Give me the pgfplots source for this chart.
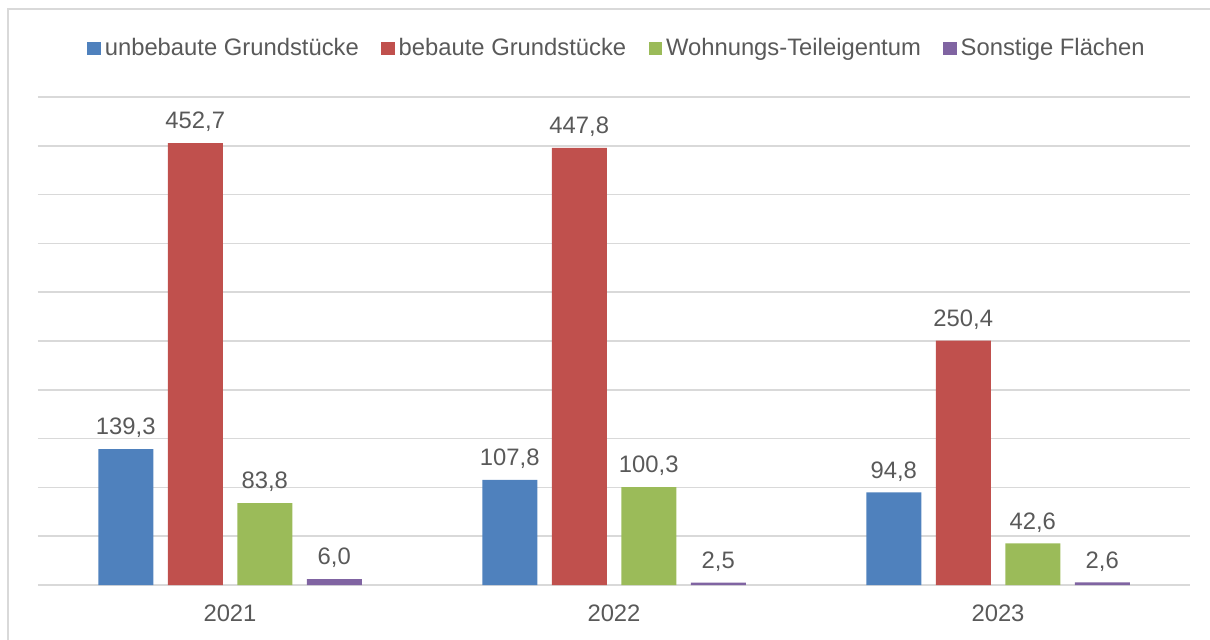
\documentclass[border=0pt]{standalone}
\usepackage{fontspec}
\setmainfont{Liberation Sans}
\usepackage{pgfplots}
\pgfplotsset{compat=1.18}
\definecolor{cblue}{HTML}{4F81BD}
\definecolor{cred}{HTML}{C0504D}
\definecolor{cgreen}{HTML}{9BBB59}
\definecolor{cpurple}{HTML}{8064A2}
\definecolor{textgray}{HTML}{595959}
\definecolor{gridgray}{HTML}{D9D9D9}
\begin{document}
\fontsize{11.9}{14}\selectfont
\begin{tikzpicture}
\useasboundingbox (-19pt,-27pt) rectangle (586pt,292.5pt);
\draw[color=gridgray, line width=0.75pt] (-15pt,-40pt) rectangle (600pt,288pt);
\begin{axis}[
  at={(0,0)}, anchor=south west,
  scale only axis, width=576pt, height=244pt,
  ymin=0, ymax=500, ytick={0,50,...,500}, yticklabel=\empty,
  xmin=-0.5, xmax=2.5, xtick={0,1,2}, xticklabels={2021,2022,2023},
  major tick length=0pt,
  axis line style={draw=none},
  ymajorgrids, grid style={gridgray, line width=0.75pt},
  ybar=7.25pt, bar width=27.5pt,
  /pgf/number format/assume math mode=true,
  tick label style={font=\fontsize{11.9}{14}\selectfont, text=textgray},
  xticklabel style={yshift=-6pt},
  nodes near coords={\pgfmathprintnumber[use comma,fixed,fixed zerofill,precision=1]{\pgfplotspointmeta}},
  nodes near coords style={font=\fontsize{11.9}{14}\selectfont, text=textgray, yshift=1.5pt},
  legend style={at={(0.5035,1.10)}, anchor=center, draw=none, fill=none,
    font=\fontsize{11.9}{14}\selectfont, text=textgray,
    /tikz/every even column/.append style={column sep=9.2pt}},
  legend columns=4,
  legend image code/.code={\fill[#1,draw=none] (0pt,-3.35pt) rectangle (6.7pt,3.35pt);},
]
\addplot[fill=cblue, draw=none] coordinates {(0,139.3) (1,107.8) (2,94.8)};
\addplot[fill=cred, draw=none] coordinates {(0,452.7) (1,447.8) (2,250.4)};
\addplot[fill=cgreen, draw=none] coordinates {(0,83.8) (1,100.3) (2,42.6)};
\addplot[fill=cpurple, draw=none] coordinates {(0,6.0) (1,2.5) (2,2.6)};
\legend{unbebaute Grundstücke, bebaute Grundstücke, Wohnungs-Teileigentum, Sonstige Flächen}
\end{axis}
\end{tikzpicture}
\end{document}
